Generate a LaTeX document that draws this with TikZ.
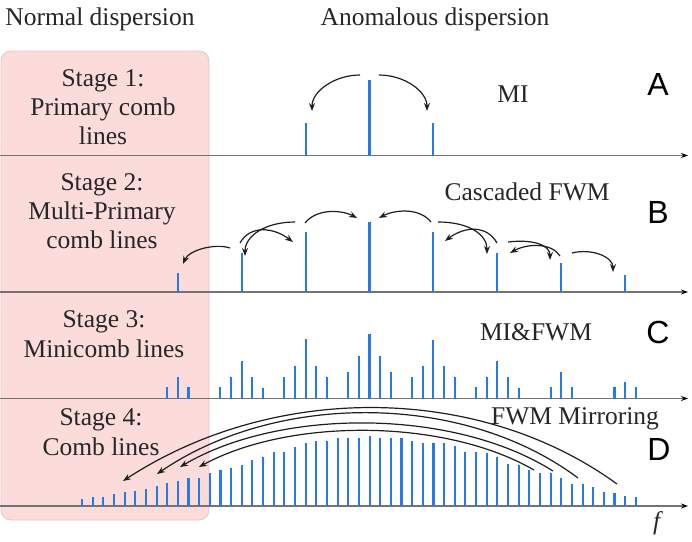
\documentclass[tikz,border=0pt]{standalone}
\usepackage{fontspec}
\setmainfont{Liberation Serif}
\newfontfamily\lblfont{Liberation Sans}
\usetikzlibrary{arrows.meta}
\definecolor{comb}{RGB}{40,120,235}
\definecolor{pinkfill}{RGB}{252,219,219}
\definecolor{pinkedge}{RGB}{232,198,198}
\definecolor{axisgray}{RGB}{115,115,115}
\definecolor{arrowc}{RGB}{30,30,30}
\begin{document}
\begin{tikzpicture}[x=1pt,y=-1pt,
  combline/.style={draw=comb, line width=2.1pt},
  axisline/.style={draw=axisgray, line width=1.1pt, -{Stealth[length=7pt,width=5pt,color=black]}},
  fwm/.style={draw=arrowc, line width=1.2pt, -{Stealth[length=8pt,width=6pt]}},
  txt/.style={font=\fontsize{25.5}{30}\selectfont, anchor=base, inner sep=0pt, text=black!85},
  lbl/.style={font=\lblfont\fontsize{32}{36}\selectfont, anchor=base, inner sep=0pt},
  pinkbox/.style={fill=pinkfill, draw=pinkedge, line width=0.8pt, rounded corners=10pt}
]
\useasboundingbox (0,0) rectangle (692,541);
% normal dispersion region
\path[pinkbox] (1,51) rectangle (209,520);

% headers
\node[txt] (hn) at (100,25) {Normal dispersion};
\node[txt] (ha) at (435,25) {Anomalous dispersion};

% stage texts
\node[txt] (s1a) at (103,86) {Stage 1:};
\node[txt] (s1b) at (103,115) {Primary comb};
\node[txt] (s1c) at (103,144) {lines};
\node[txt] (s2a) at (102,190) {Stage 2:};
\node[txt] (s2b) at (102,219) {Multi-Primary};
\node[txt] (s2c) at (102,248) {comb lines};
\node[txt] (s3a) at (104,327) {Stage 3:};
\node[txt] (s3b) at (104,357) {Minicomb lines};
\node[txt] (s4a) at (101,425) {Stage 4:};
\node[txt] (s4b) at (101,455) {Comb lines};

% process labels
\node[txt] (mi) at (513,102) {MI};
\node[txt] (cfwm) at (527,200) {Cascaded FWM};
\node[txt] (mifwm) at (536,340) {MI\&FWM};
\node[txt] (mirr) at (575,424) {FWM Mirroring};
\node[lbl] (la) at (658,95) {A};
\node[lbl] (lb) at (658,223) {B};
\node[lbl] (lc) at (658,343) {C};
\node[lbl] (ld) at (659,460) {D};
\node[txt] (fl) at (658,529) {\textit{f}};

% axes
\draw[axisline] (0,155.5) -- (688,155.5);
\draw[axisline] (0,292) -- (688,292);
\draw[axisline] (0,398.5) -- (688,398.5);
\draw[axisline] (0,506) -- (688,506);

% stage A lines
\draw[combline] (305.6,155.5) -- ++(0,-33);
\draw[combline] (369.5,155.5) -- ++(0,-76);
\draw[combline] (433.4,155.5) -- ++(0,-33);

% stage B lines
\foreach \k/\h in {-18/19,-12/39,-6/60,0/70,6/60,12/39,18/29,24/17}
  \draw[combline] ({369.5+\k*10.65},292) -- ++(0,-\h);

% stage C lines
\foreach \k/\h in {-19/12,-18/22,-17/12,
                   -14/12,-13/22,-12/38,-11/22,-10/11,
                   -8/22,-7/33,-6/60,-5/33,-4/22,
                   -2/27,-1/43,0/65,1/43,2/27,
                   4/22,5/33,6/59,7/33,8/22,
                   10/12,11/22,12/38,13/22,14/11,
                   17/12,18/27,19/12,
                   23/12,24/17,25/12}
  \draw[combline] ({369.5+\k*10.65},398.5) -- ++(0,-\h);

% stage D lines
\foreach \h [count=\i from 0] in {7,9,9,12,14,15,17,20,23,25,28,28,33,36,38,41,46,49,54,54,59,63,65,65,68,68,68,70,68,68,68,65,63,63,63,60,54,54,53,49,42,41,36,33,33,28,22,22,19,14,13,10,9}
  \draw[combline] ({82+\i*10.65},506) -- ++(0,-\h);

% arrows A (MI)
\coordinate (a1s) at (360,75);  \coordinate (a1e) at (312,111);
\coordinate (a2s) at (379,75);  \coordinate (a2e) at (427,111);
\draw[fwm] (a1s) .. controls +(-25,0) and +(0,-20) .. (a1e);
\draw[fwm] (a2s) .. controls +(25,0) and +(0,-20) .. (a2e);

% arrows B (cascaded FWM)
\coordinate (b1s) at (230,248); \coordinate (b1e) at (183,264);
\coordinate (b2s) at (295,222); \coordinate (b2e) at (245,256);
\coordinate (b3s) at (240,243); \coordinate (b3e) at (293,242);
\coordinate (b4s) at (305,223); \coordinate (b4e) at (357,218);
\coordinate (b5s) at (431,222); \coordinate (b5e) at (379,218);
\coordinate (b6s) at (438,222); \coordinate (b6e) at (487,254);
\coordinate (b7s) at (497,243); \coordinate (b7e) at (445,241);
\coordinate (b8s) at (508,242); \coordinate (b8e) at (550,260);
\coordinate (b9s) at (560,256); \coordinate (b9e) at (510,253);
\coordinate (b10s) at (572,253); \coordinate (b10e) at (613,272);
\draw[fwm] (b1s) .. controls +(-15,-5) and +(6,-14) .. (b1e);
\draw[fwm] (b2s) .. controls +(-30,0) and +(0,-20) .. (b2e);
\draw[fwm] (b3s) .. controls +(10,-18) and +(-20,-15) .. (b3e);
\draw[fwm] (b4s) .. controls +(12,-15) and +(-15,-8) .. (b4e);
\draw[fwm] (b5s) .. controls +(-12,-15) and +(15,-8) .. (b5e);
\draw[fwm] (b6s) .. controls +(30,0) and +(0,-20) .. (b6e);
\draw[fwm] (b7s) .. controls +(-10,-18) and +(20,-15) .. (b7e);
\draw[fwm] (b8s) .. controls +(25,-3) and +(0,-15) .. (b8e);
\draw[fwm] (b9s) .. controls +(-8,-13) and +(18,-10) .. (b9e);
\draw[fwm] (b10s) .. controls +(20,-5) and +(0,-15) .. (b10e);

% arrows D (FWM mirroring)
\coordinate (d1s) at (617,484); \coordinate (d1e) at (123,481);
\coordinate (d2s) at (578,478); \coordinate (d2e) at (157,474);
\coordinate (d3s) at (553,471); \coordinate (d3e) at (180,467);
\coordinate (d4s) at (534,470); \coordinate (d4e) at (199,467);
\draw[fwm] (d1s) .. controls (478,383) and (273,383) .. (d1e);
\draw[fwm] (d2s) .. controls (463,392) and (277,392) .. (d2e);
\draw[fwm] (d3s) .. controls (453,408) and (280,408) .. (d3e);
\draw[fwm] (d4s) .. controls (444,418) and (289,418) .. (d4e);
\end{tikzpicture}
\end{document}
